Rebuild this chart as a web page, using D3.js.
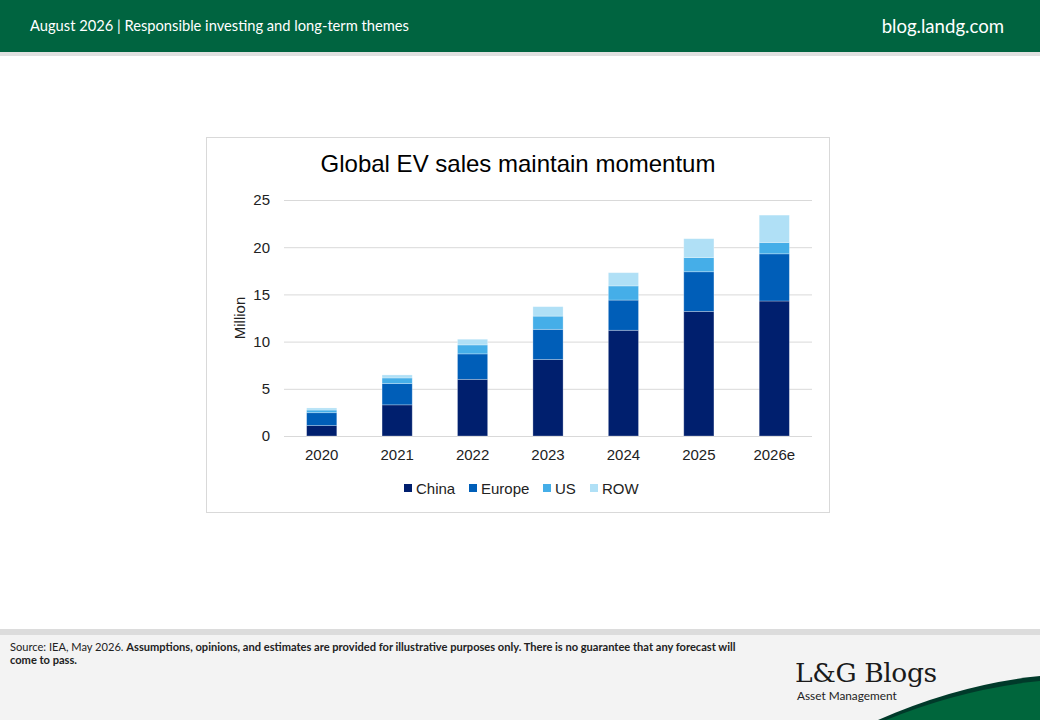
<!DOCTYPE html>
<html>
<head>
<meta charset="utf-8">
<script src="https://cdn.jsdelivr.net/npm/d3@7"></script>
<style>
  body { margin: 0; background: #fff; }
  svg { display: block; }
</style>
</head>
<body>
<script>
// chart data (million EVs sold)
var years = ["2020", "2021", "2022", "2023", "2024", "2025", "2026e"];
var china = [1.1, 3.3, 6.0, 8.1, 11.2, 13.2, 14.3];
var europe = [1.37, 2.25, 2.7, 3.2, 3.2, 4.2, 5.0];
var us = [0.28, 0.6, 0.95, 1.4, 1.5, 1.5, 1.2];
var row = [0.22, 0.32, 0.6, 1.0, 1.4, 2.0, 2.9];
var seriesNames = ["China", "Europe", "US", "ROW"];
var yTicks = [0, 5, 10, 15, 20, 25];

function init() {
    var W = 1040, H = 720;
    var colors = ["#001f6e", "#005eb8", "#45aee8", "#b0e0f6"];

    var svg = d3.select("body").append("svg")
        .attr("width", W)
        .attr("height", H);

    // header band
    svg.append("rect").attr("x", 0).attr("y", 0).attr("width", W).attr("height", 52).attr("fill", "#006440");
    svg.append("rect").attr("x", 0).attr("y", 52).attr("width", W).attr("height", 4).attr("fill", "#e0e0e0");
    svg.append("text").attr("x", 30).attr("y", 31)
        .attr("font-family", "Lato, 'Open Sans', sans-serif").attr("font-size", 14.7).attr("fill", "#fff")
        .text("August 2026 | Responsible investing and long-term themes");
    svg.append("text").attr("x", 1004).attr("y", 33).attr("text-anchor", "end")
        .attr("font-family", "Lato, 'Open Sans', sans-serif").attr("font-size", 18.6).attr("fill", "#fff")
        .text("blog.landg.com");

    // footer
    svg.append("rect").attr("x", 0).attr("y", 629).attr("width", W).attr("height", 6).attr("fill", "#dcdcdc");
    svg.append("rect").attr("x", 0).attr("y", 635).attr("width", W).attr("height", H - 635).attr("fill", "#f3f3f3");
    var src = svg.append("text").attr("x", 10).attr("y", 651)
        .attr("font-family", "Lato, 'Open Sans', sans-serif").attr("font-size", 11.1).attr("fill", "#222");
    src.append("tspan").text("Source: IEA, May 2026. ");
    src.append("tspan").attr("font-weight", "bold")
        .text("Assumptions, opinions, and estimates are provided for illustrative purposes only. There is no guarantee that any forecast will");
    svg.append("text").attr("x", 10).attr("y", 664)
        .attr("font-family", "Lato, 'Open Sans', sans-serif").attr("font-size", 11.1).attr("font-weight", "bold").attr("fill", "#222")
        .text("come to pass.");

    // logo swoosh
    svg.append("path")
        .attr("d", "M878,720 Q960,684 1040,676 L1040,720 Z")
        .attr("fill", "#003a2a");
    svg.append("path")
        .attr("d", "M886,720 Q962,689 1040,681 L1040,720 Z")
        .attr("fill", "#00663c");
    svg.append("text").attr("x", 795).attr("y", 682)
        .attr("font-family", "'DejaVu Serif', 'Liberation Serif', serif").attr("font-size", 26.5).attr("fill", "#1a1a1a")
        .attr("letter-spacing", -0.4)
        .text("L&G Blogs");
    svg.append("text").attr("x", 797).attr("y", 700)
        .attr("font-family", "Lato, 'Open Sans', sans-serif").attr("font-size", 11.8).attr("fill", "#222")
        .text("Asset Management");

    // chart frame
    svg.append("rect").attr("x", 206.5).attr("y", 137.5).attr("width", 623).attr("height", 375)
        .attr("fill", "#fff").attr("stroke", "#d9d9d9");

    var font = "'Liberation Sans', Arial, sans-serif";
    svg.append("text").attr("x", 518).attr("y", 172).attr("text-anchor", "middle")
        .attr("font-family", font).attr("font-size", 24).attr("fill", "#000")
        .text("Global EV sales maintain momentum");

    var x = d3.scaleBand().domain(years).range([284, 812]).paddingInner(0.6).paddingOuter(0.3);
    var y = d3.scaleLinear().domain([0, 25]).range([436, 200]);

    // gridlines
    svg.append("g").selectAll("line").data(yTicks).enter().append("line")
        .attr("x1", 284).attr("x2", 812)
        .attr("y1", function(d) { return y(d) + 0.5; })
        .attr("y2", function(d) { return y(d) + 0.5; })
        .attr("stroke", "#d9d9d9").attr("stroke-width", 1);

    // y axis labels
    var yAxis = svg.append("g").attr("transform", "translate(276,0)")
        .call(d3.axisLeft(y).tickValues(yTicks).tickSize(0).tickPadding(6));
    yAxis.select(".domain").remove();
    yAxis.selectAll("text").attr("font-family", font).attr("font-size", 15).attr("fill", "#222");

    var xAxis = svg.append("g").attr("transform", "translate(0,445)")
        .call(d3.axisBottom(x).tickSize(0).tickPadding(4));
    xAxis.select(".domain").remove();
    xAxis.selectAll("text").attr("font-family", font).attr("font-size", 15).attr("fill", "#222");

    svg.append("text")
        .attr("transform", "translate(245,318) rotate(-90)")
        .attr("text-anchor", "middle")
        .attr("font-family", font).attr("font-size", 15).attr("fill", "#222")
        .text("Million");

    // stacked bars
    var table = years.map(function(yr, i) {
        return { year: yr, China: china[i], Europe: europe[i], US: us[i], ROW: row[i] };
    });
    var stack = d3.stack().keys(seriesNames)(table);

    svg.append("g").selectAll("g").data(stack).enter().append("g")
        .attr("fill", function(d, i) { return colors[i]; })
        .selectAll("rect").data(function(d) { return d; }).enter().append("rect")
        .attr("x", function(d) { return x(d.data.year); })
        .attr("width", x.bandwidth())
        .attr("y", function(d) { return y(d[1]); })
        .attr("height", function(d) { return y(d[0]) - y(d[1]); })
        .attr("stroke", "rgba(255,255,255,0.35)")
        .attr("stroke-width", 0.8);

    // legend
    var legendX = [404, 469, 543, 590];
    var legend = svg.append("g").selectAll("g").data(seriesNames).enter().append("g")
        .attr("transform", function(d, i) { return "translate(" + legendX[i] + ",488)"; });
    legend.append("rect").attr("x", 0).attr("y", -4).attr("width", 8).attr("height", 8)
        .attr("fill", function(d, i) { return colors[i]; });
    legend.append("text").attr("x", 12).attr("y", 5.5)
        .attr("font-family", font).attr("font-size", 15).attr("fill", "#222")
        .text(function(d) { return d; });
}

window.onload = init;
</script>
</body>
</html>
